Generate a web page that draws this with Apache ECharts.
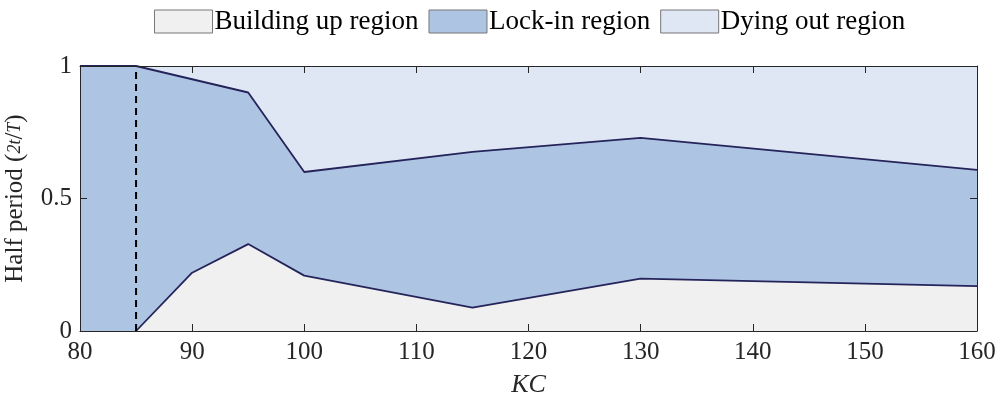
<!DOCTYPE html>
<html>
<head>
<meta charset="utf-8">
<script src="https://cdn.jsdelivr.net/npm/echarts@6/dist/echarts.min.js"></script>
<style>html,body{margin:0;padding:0;background:#fff}#c{width:997px;height:399px}</style>
</head>
<body>
<div id="c"></div>
<script>
// Data
var seriesNames = ['Building up region', 'Lock-in region', 'Dying out region'];
var dyingOut = [[80, 1], [160, 1]];
var lockInUpper = [[80, 1], [85, 1], [95, 0.90], [100, 0.60], [115, 0.676], [130, 0.729], [160, 0.608]];
var buildingUpper = [[85, 0], [90, 0.22], [95, 0.328], [100, 0.209], [115, 0.088], [130, 0.198], [160, 0.169]];
var dashedLine = [[85, 0], [85, 1]];
var xTicks = [80, 90, 100, 110, 120, 130, 140, 150, 160];
var yTicks = [0, 0.5, 1];

var colBuild = '#f0f0f0', colLock = '#aec4e3', colDying = '#e0e7f4', colLine = '#24245a', axisCol = '#262626';
var serif = "'Liberation Serif', 'DejaVu Serif', serif";

var chart = echarts.init(document.getElementById('c'), null, {renderer: 'canvas'});
function axisCommon(showLabel) {
  return {
    z: 10,
    axisLine: {show: true, onZero: false, lineStyle: {color: axisCol, width: 1}},
    axisTick: {show: true, inside: true, length: 7, lineStyle: {color: axisCol}},
    splitLine: {show: false},
    axisLabel: {show: showLabel, color: axisCol, fontFamily: serif, fontSize: 25}
  };
}
var option = {
  animation: false,
  backgroundColor: '#fff',
  grid: {left: 80, right: 20, top: 66, bottom: 68, outerBoundsMode: 'none', containLabel: false},
  legend: {
    top: 3, left: 149,
    itemWidth: 58, itemHeight: 23, itemGap: 10,
    textStyle: {fontFamily: serif, fontSize: 27, color: '#000', padding: [0, 0, 0, -3]},
    data: [
      {name: seriesNames[0], icon: 'rect', itemStyle: {color: colBuild, borderColor: '#777', borderWidth: 1}},
      {name: seriesNames[1], icon: 'rect', itemStyle: {color: colLock, borderColor: '#777', borderWidth: 1}},
      {name: seriesNames[2], icon: 'rect', itemStyle: {color: colDying, borderColor: '#777', borderWidth: 1}}
    ]
  },
  xAxis: [
    Object.assign(axisCommon(true), {
      type: 'value', min: 80, max: 160, interval: 10, position: 'bottom',
      name: 'KC', nameLocation: 'middle', nameGap: 41,
      nameTextStyle: {fontFamily: serif, fontStyle: 'italic', fontSize: 26, color: axisCol},
      axisLabel: {color: axisCol, fontFamily: serif, fontSize: 25, margin: 9,
        formatter: function (v) { return xTicks.indexOf(v) >= 0 ? String(v) : ''; }}
    }),
    Object.assign(axisCommon(false), {type: 'value', min: 80, max: 160, interval: 10, position: 'top'})
  ],
  yAxis: [
    Object.assign(axisCommon(true), {
      type: 'value', min: 0, max: 1, interval: 0.5, position: 'left',
      name: '{n|Half period (}{i|2t}{n|/}{i|T}{n|)}', nameLocation: 'middle', nameGap: 52, nameRotate: 90,
      nameTextStyle: {rich: {
        n: {fontFamily: serif, fontSize: 25, color: axisCol},
        i: {fontFamily: serif, fontSize: 18, fontStyle: 'italic', color: axisCol}
      }},
      axisLabel: {color: axisCol, fontFamily: serif, fontSize: 25, margin: 8,
        formatter: function (v) { return yTicks.indexOf(v) >= 0 ? String(v) : ''; }}
    }),
    Object.assign(axisCommon(false), {type: 'value', min: 0, max: 1, interval: 0.5, position: 'right'})
  ],
  series: [
    {name: seriesNames[2], type: 'line', data: dyingOut, symbol: 'none', color: colDying,
      lineStyle: {width: 0}, areaStyle: {color: colDying, opacity: 1}, z: 1},
    {name: seriesNames[1], type: 'line', data: lockInUpper, symbol: 'none', color: colLock,
      lineStyle: {width: 1.8, color: colLine}, areaStyle: {color: colLock, opacity: 1}, z: 2},
    {name: seriesNames[0], type: 'line', data: buildingUpper, symbol: 'none', color: colBuild,
      lineStyle: {width: 1.8, color: colLine}, areaStyle: {color: colBuild, opacity: 1}, z: 3},
    {name: 'dash', type: 'line', data: dashedLine, symbol: 'none',
      lineStyle: {width: 2, color: '#000', type: [7, 5]}, z: 4}
  ]
};
chart.setOption(option);
</script>
</body>
</html>
